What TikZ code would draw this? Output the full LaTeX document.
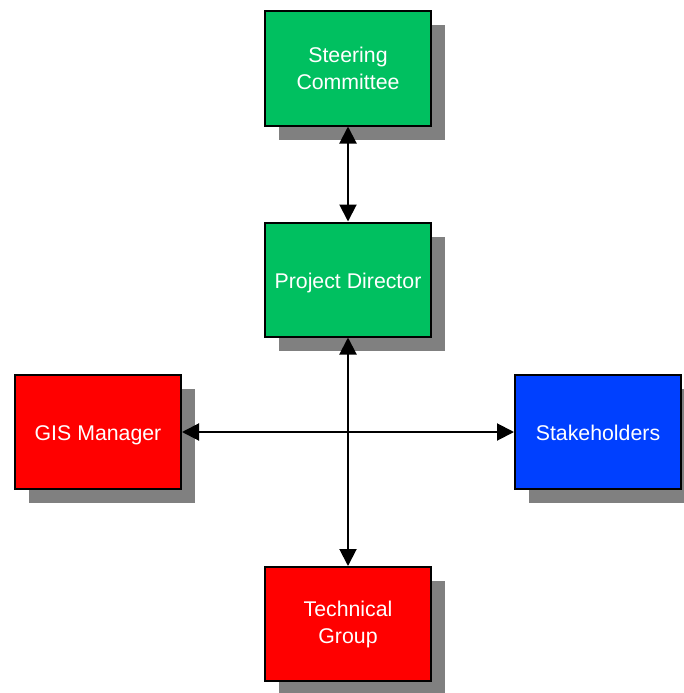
\documentclass[tikz,border=0pt]{standalone}
\usepackage{fontspec}
\setmainfont{Liberation Sans}
\usetikzlibrary{arrows.meta,shadows}
\definecolor{boxgreen}{RGB}{0,192,96}
\definecolor{boxred}{RGB}{255,0,0}
\definecolor{boxblue}{RGB}{0,64,255}
\definecolor{shadowgray}{RGB}{128,128,128}
\tikzset{
  orgbox/.style={draw=black, line width=2pt, minimum width=166pt, minimum height=114pt,
    inner sep=0pt, text=white,
    font=\fontsize{21.3}{27}\selectfont,
    drop shadow={shadow xshift=14pt, shadow yshift=-14pt, fill=shadowgray, opacity=1}},
  twoline/.style={align=center},
  oneline/.style={text height=22pt, text depth=4.5pt},
  link/.style={line width=2pt, {Triangle[length=17pt,width=17pt]}-{Triangle[length=17pt,width=17pt]}}
}
\begin{document}
\begin{tikzpicture}[x=1pt,y=-1pt]
\useasboundingbox (0,0) rectangle (684,693);
\node[orgbox, twoline, fill=boxgreen] (sc) at (348,68.5) {Steering\\Committee};
\node[orgbox, oneline, fill=boxgreen] (pd) at (348,279.5) {Project Director};
\node[orgbox, oneline, fill=boxred] (gis) at (98,432) {GIS Manager};
\node[orgbox, oneline, fill=boxblue] (sh) at (598,432) {Stakeholders};
\node[orgbox, twoline, fill=boxred] (tg) at (348,624) {Technical\\Group};
\draw[link] (sc.south) -- (pd.north);
\draw[link] (pd.south) -- (tg.north);
\draw[link] (gis.east) -- (sh.west);
\end{tikzpicture}
\end{document}
